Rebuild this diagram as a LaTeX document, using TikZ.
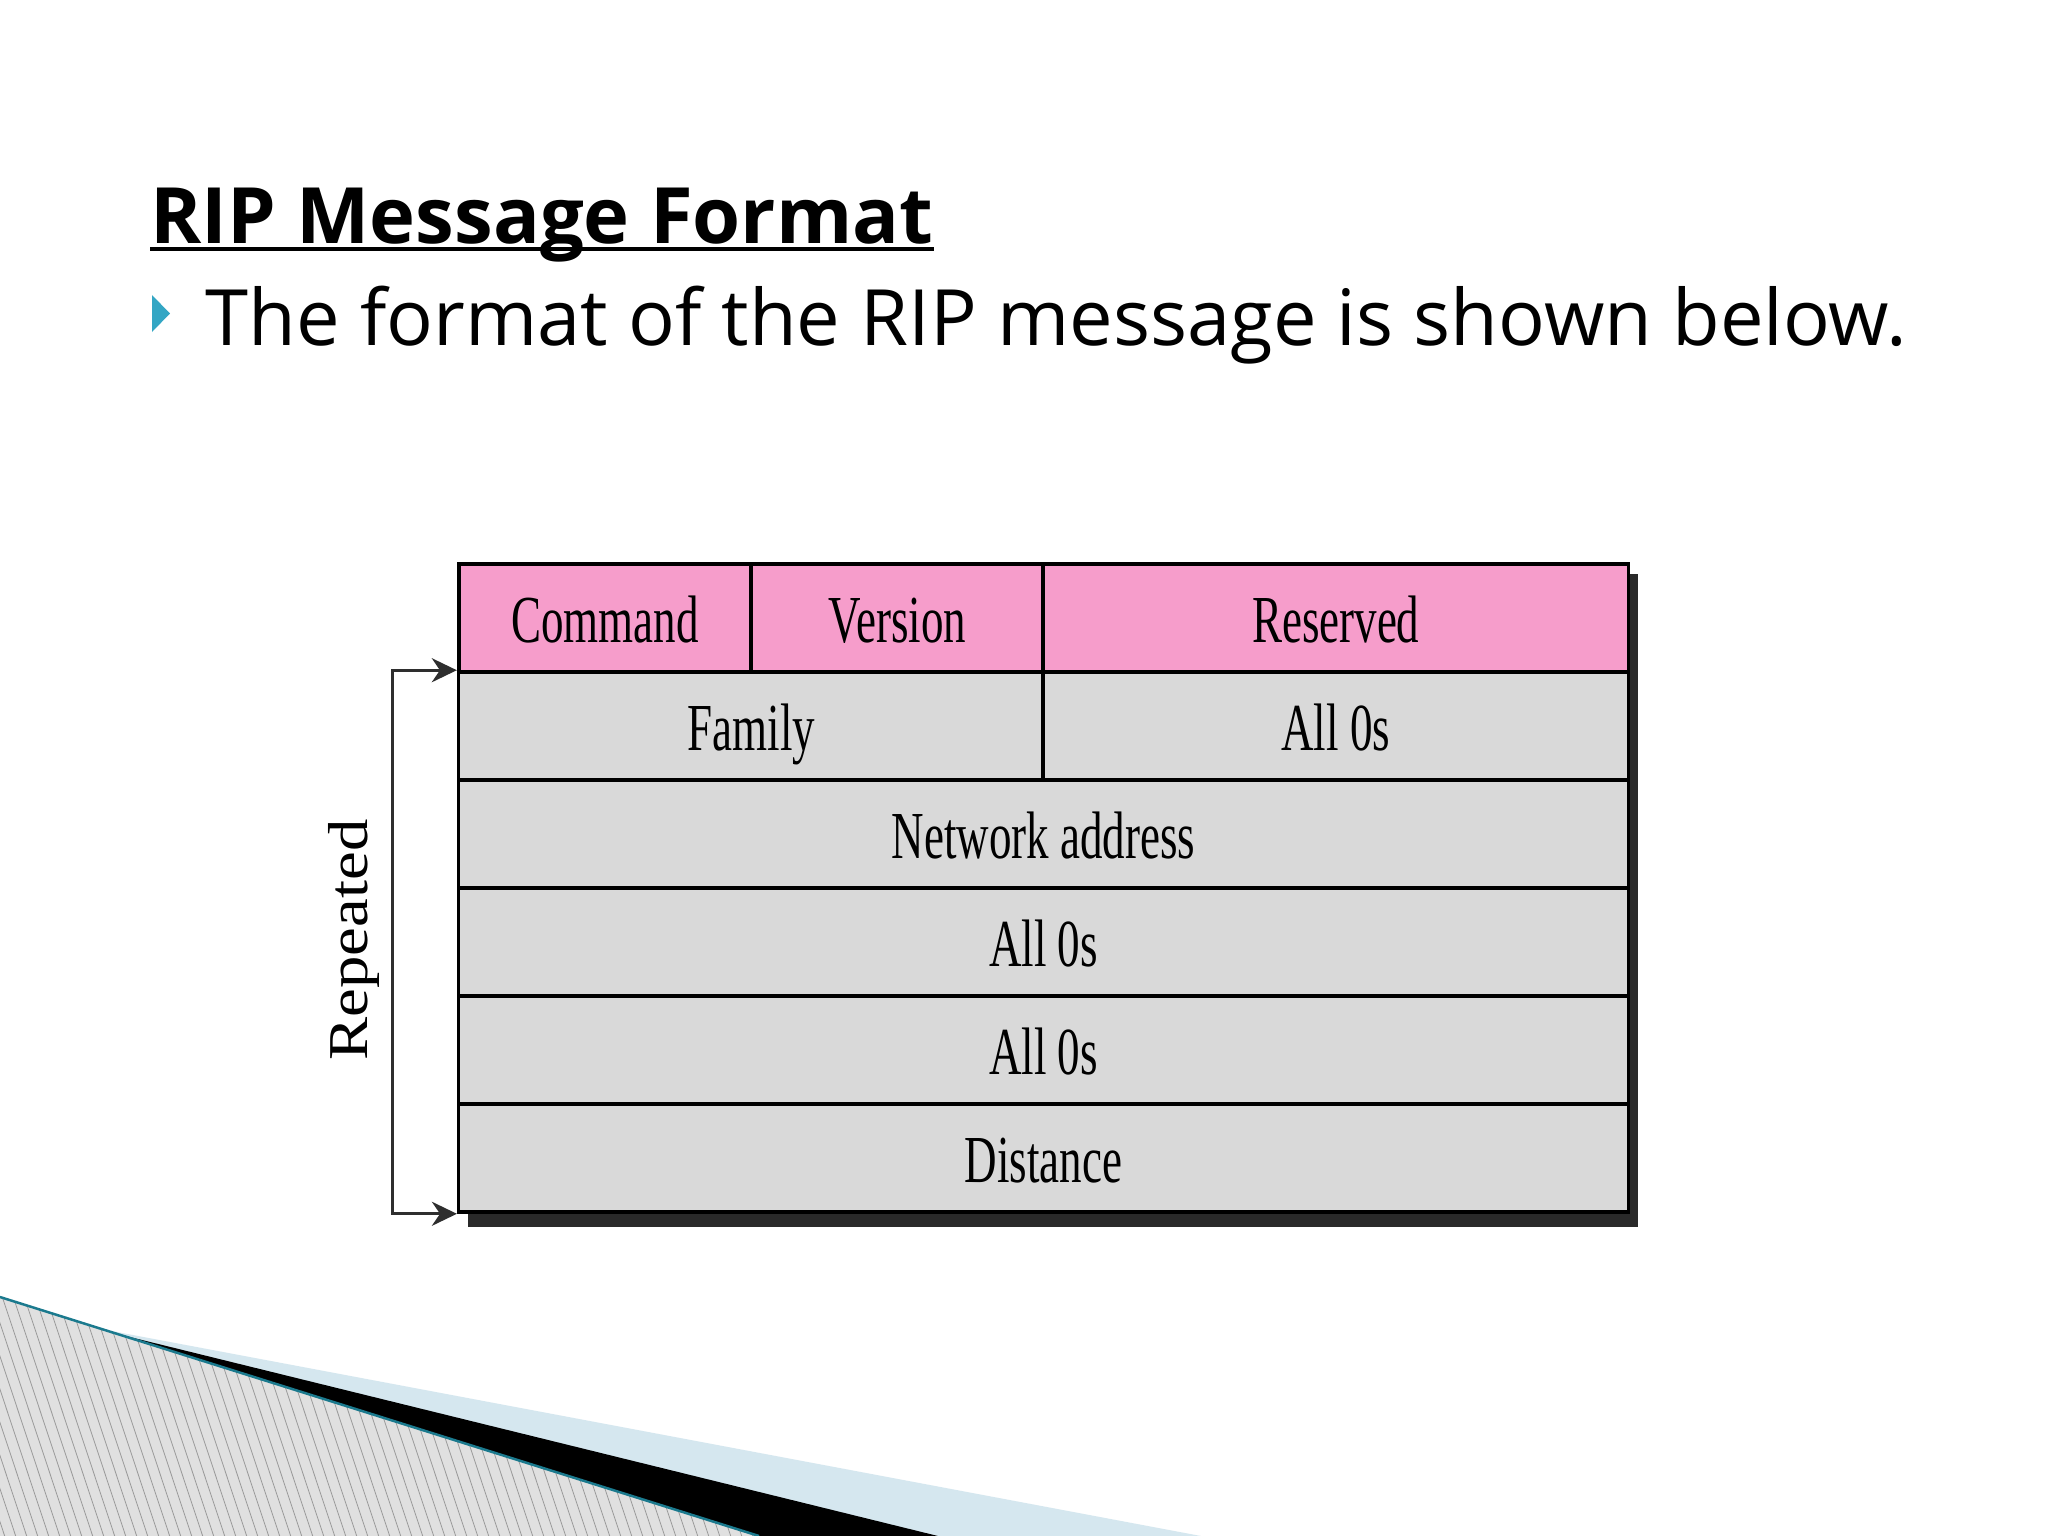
\documentclass[tikz,border=0pt]{standalone}
\usepackage{fontspec}
\usepackage{graphicx}
\setmainfont{Open Sans}
\newfontfamily\tabfont{Liberation Serif}
\usetikzlibrary{arrows.meta}
\definecolor{pinkc}{HTML}{F69DCB}
\definecolor{grayc}{HTML}{D9D9D9}
\definecolor{shadowc}{HTML}{2A2A2A}
\definecolor{tealline}{HTML}{1B7A8E}
\definecolor{bluew}{HTML}{D5E7EF}
\definecolor{hatchbg}{HTML}{E0E0E0}
\definecolor{hatchln}{HTML}{9A9A9A}
\definecolor{bulletc}{HTML}{33A6C4}
\definecolor{arrowc}{HTML}{2E2E2E}
\newcommand{\celltext}[1]{{\tabfont\fontsize{19.1pt}{21pt}\selectfont\scalebox{0.67}[1]{#1}}}
\tikzset{
  cell/.style={rectangle, draw=black, line width=0.035cm, inner sep=0pt,
    minimum height=1.08cm, text height=0.48cm, text depth=0cm},
  pinkcell/.style={cell, fill=pinkc},
  graycell/.style={cell, fill=grayc},
  qw/.style={minimum width=2.92cm},
  hw/.style={minimum width=5.85cm},
  fw/.style={minimum width=11.69cm},
  rep arrow/.style={draw=arrowc, line width=0.03cm,
    {Stealth[length=0.25cm,width=0.24cm]}-{Stealth[length=0.25cm,width=0.24cm]}},
}
\begin{document}
\begin{tikzpicture}[x=0.01cm,y=-0.01cm]
\useasboundingbox (0,0) rectangle (2048,1536);
\fill[white] (0,0) rectangle (2048,1536);

% bottom-left decoration
\fill[bluew] (0,1310) -- (1201,1536) -- (0,1536) -- cycle;
\fill[black] (0,1305) -- (938,1536) -- (0,1536) -- cycle;
\fill[hatchbg] (0,1297) -- (759,1536) -- (0,1536) -- cycle;
\begin{scope}
  \clip (0,1297) -- (759,1536) -- (0,1536) -- cycle;
  \foreach \i in {-10,...,70} {
    \draw[hatchln, line width=0.008cm] (\i*11,1290) -- ++(83,250);
  }
\end{scope}
\draw[tealline, line width=0.025cm] (0,1297) -- (759,1536);

% title and bullet text
\node[anchor=base west, inner sep=0pt, font=\bfseries\fontsize{22.1pt}{26pt}\selectfont] (title) at (150,243) {RIP Message Format};
\draw[line width=0.04cm] ([yshift=-0.06cm]title.base west) -- ([yshift=-0.06cm]title.base east);
\fill[bulletc] (152,295) -- (170,313.5) -- (152,332) -- cycle;
\node[anchor=base west, inner sep=0pt, font=\fontsize{22.1pt}{26pt}\selectfont] (body) at (205,345) {The format of the RIP message is shown below.};

% shadow
\fill[shadowc] (468,574) rectangle (1638,1227);

% table
\node[pinkcell, qw] (cmd) at (605,618) {\celltext{Command}};
\node[pinkcell, qw] (ver) at (897.25,618) {\celltext{Version}};
\node[pinkcell, hw] (res) at (1335.75,618) {\celltext{Reserved}};
\node[graycell, hw] (fam) at (751.25,726) {\celltext{Family}};
\node[graycell, hw] (zeroa) at (1335.75,726) {\celltext{All 0s}};
\node[graycell, fw] (net) at (1043.5,834) {\celltext{Network address}};
\node[graycell, fw] (zerob) at (1043.5,942) {\celltext{All 0s}};
\node[graycell, fw] (zeroc) at (1043.5,1050) {\celltext{All 0s}};
\node[graycell, fw] (dist) at (1043.5,1158) {\celltext{Distance}};

% repeated bracket
\node[rotate=90, anchor=base, inner sep=0pt, font=\tabfont\fontsize{16pt}{18pt}\selectfont] (rep) at (367,940) {\scalebox{1.15}[1]{Repeated}};
\coordinate (spine) at (392,940);
\draw[rep arrow] (fam.north west) -- (fam.north west -| spine) -- (spine |- dist.south west) -- (dist.south west);
\end{tikzpicture}
\end{document}
